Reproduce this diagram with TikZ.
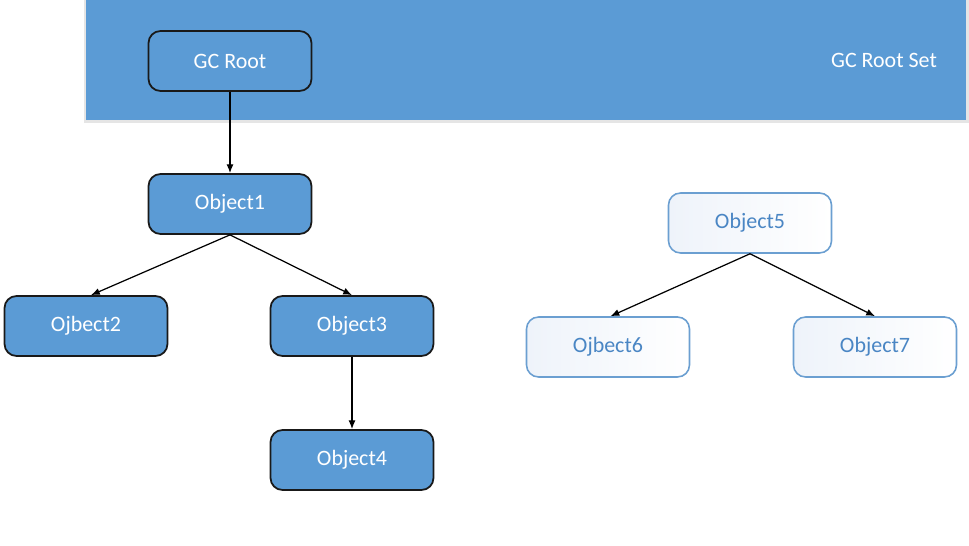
\documentclass[tikz,border=0pt]{standalone}
\usepackage{fontspec}
\setmainfont{Carlito}
\usetikzlibrary{arrows.meta}
\definecolor{gcblue}{HTML}{5B9BD5}
\definecolor{edgeblue}{HTML}{6B9FD1}
\definecolor{paleblue}{HTML}{EEF3FA}
\definecolor{textblue}{HTML}{4A86C4}
\begin{document}
\begin{tikzpicture}[x=0.02cm,y=-0.02cm,
  obj/.style={rounded corners=0.24cm, minimum width=3.26cm, minimum height=1.2cm,
    inner sep=0pt, font=\fontsize{12.5}{15}\selectfont},
  live/.style={obj, draw=black!90, line width=1pt, fill=gcblue, text=white},
  dead/.style={obj, draw=edgeblue, line width=0.9pt, left color=paleblue, right color=white, text=textblue},
  ref/.style={-{Latex[length=5pt,width=4pt]}, line width=0.7pt}]
  \useasboundingbox (0,0) rectangle (969,546);
  % root set banner
  \fill[black!10] (84,0) rectangle (969,123);
  \fill[gcblue] (86,0) rectangle (966,120);
  \node[text=white, font=\fontsize{12.5}{15}\selectfont] (setlabel) at (884,60) {GC Root Set};
  % reachable objects
  \node[live] (root) at (230,61) {GC Root};
  \node[live] (o1) at (230,204) {Object1};
  \node[live] (o2) at (86,326) {Ojbect2};
  \node[live] (o3) at (352,326) {Object3};
  \node[live] (o4) at (352,460) {Object4};
  % unreachable objects
  \node[dead] (o5) at (750,223) {Object5};
  \node[dead] (o6) at (608,347) {Ojbect6};
  \node[dead] (o7) at (875,347) {Object7};
  % references
  \draw[ref] (root.south) -- (o1.north);
  \draw[ref] (o1.south) -- ([xshift=0.1cm]o2.north);
  \draw[ref] (o1.south) -- (o3.north);
  \draw[ref] (o3.south) -- (o4.north);
  \draw[ref] (o5.south) -- ([xshift=0.05cm]o6.north);
  \draw[ref] (o5.south) -- (o7.north);
\end{tikzpicture}
\end{document}
